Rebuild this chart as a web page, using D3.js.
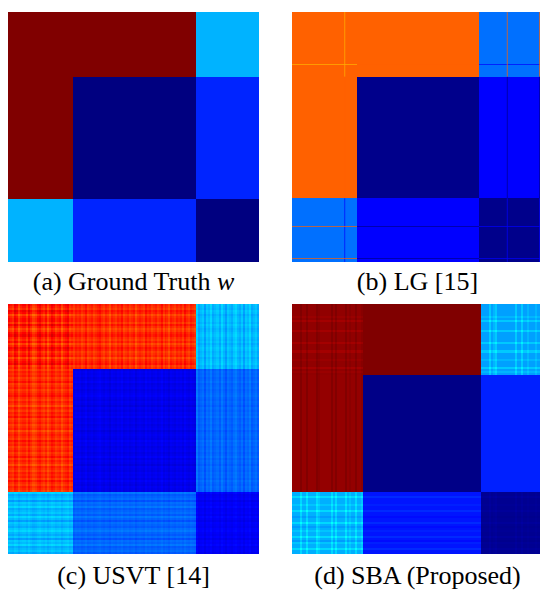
<!DOCTYPE html>
<html><head><meta charset="utf-8">
<script src="https://cdn.jsdelivr.net/npm/d3@7"></script>
<style>html,body{margin:0;padding:0;background:#fff;} svg{display:block;}</style>
</head><body>
<script>
// ---------- data ----------
const captions = ["(a) Ground Truth ", "(b) LG [15]", "(c) USVT [14]", "(d) SBA (Proposed)"];
const captionMath = ["w", "", "", ""];

// (a) ground truth graphon: block boundaries and block values
const gtBreaks = [0, 0.26, 0.749, 1];
const gtBlocks = [[1.0, 1.0, 0.30], [1.0, 0.0, 0.16], [0.30, 0.16, 0.0]];

// (b) LG estimate: blocks plus a few mis-assigned nodes (thin lines)
const lgBreaks = [0, 0.259, 0.745, 1];
const lgBlocks = [[0.78, 0.78, 0.235], [0.78, 0.011, 0.125], [0.235, 0.125, 0.011]];
const lgNodePos = [0.209, 0.856, 0.984];
const lgNodeVals = [[0.70, 0.78, 0.125], [0.78, 0.011, 0.125], [0.78, 0.011, 0.125]];

// (c) USVT estimate: blocks, per-node deviations, deviation strength per block
const usvtBreaks = [0, 0.26, 0.75, 1];
const usvtBlocks = [[0.84, 0.83, 0.305], [0.83, 0.105, 0.222], [0.305, 0.222, 0.115]];
const usvtAmp = [[0.018, 0.012, 0.005], [0.014, 0.006, 0.004], [0.014, 0.010, 0.005]];
const usvtDev = [
  [1,0,-1,2,1,-2,0,1,1,-1,2,0,-2,-1,1,2,0,-1,1,-2,0,2,1,-1,0,1,-2,0,1,2,-1,0],
  [-1,1,0,1,-1,0,2,-1,0,1,-1,0,1,2,0,-1,1,0,-2,1,0,-1,1,0,2,-1,0,1,-1,0,1,-2,0,1,0,-1,2,0,1,-1,0,1,-1,0,2,-1,1,0,-2,1,0,-1,1,0,1,-1,2,0,-1,1,0,-1],
  [2,-1,0,1,-2,1,0,2,-1,0,1,-1,2,0,-2,1,0,-1,1,2,0,-1,1,-2,1,0,2,-1,0,1,-1]
];

// (d) SBA estimate
const sbaBreaks = [0, 0.283, 0.752, 1];
const sbaBlocks = [[0.983, 1.05, 0.282], [0.98, 0.007, 0.156], [0.297, 0.145, 0.017]];
const sbaRowAmp = [[-0.009, 0, 0.02], [0, 0, 0], [0.02, 0.01, 0.004]];
const sbaColAmp = [[0.009, 0, 0.02], [0.009, 0, 0], [0.02, 0, 0.004]];
const sbaRowDev = [
  [0,0,0,0,0,0,1,0,2,0,0,0,0,2,0,0,0,0,0,2,0,0,0,2,0,0,0,1,0,0,0,2,0,1,0],
  [0],
  [0,0,2,0,0,0,1,0,0,2,0,0,-1,0,0,2,0,-1,0,1,0,0,2,0,-1,1,0,0,2,0,0]
];
const sbaColDev = [
  [0,0,0,0,2,0,0,2,0,0,0,0,2,1,0,0,0,0,0,2,0,2,0,0,0,0,2,0,1,0,0,2,0,0,1],
  [0],
  [0,0,0,0,2,0,1,2,0,0,0,0,0,0,0,0,0,2,0,0,2,0,0,1,0,0,0,1,0,0,0]
];

// ---------- drawing ----------
const jet = d3.scaleLinear()
  .domain([0, 0.125, 0.375, 0.625, 0.875, 1])
  .range(["#000080", "#0000ff", "#00ffff", "#ffff00", "#ff0000", "#800000"])
  .clamp(true);

const W = 251, H = 250;
const panelPos = [[8, 12], [292, 12], [8, 304], [292, 304]];
const captionY = [290, 290, 584, 584];

const svg = d3.select("body").append("svg").attr("width", 540).attr("height", 590);
const xs = d3.scaleLinear().domain([0, 1]).range([0, W]);
const ys = d3.scaleLinear().domain([0, 1]).range([0, H]);

function makeNodes(breaks, devs) {
  const out = [];
  devs.forEach((arr, c) => {
    const a = breaks[c], b = breaks[c + 1], n = arr.length;
    arr.forEach((dv, k) => out.push({c, t0: a + (b - a) * k / n, t1: a + (b - a) * (k + 1) / n, dev: dv}));
  });
  return out;
}

function drawMatrix(g, breaks, blocks, rowDevs, colDevs, rowAmp, colAmp) {
  const rows = makeNodes(breaks, rowDevs), cols = makeNodes(breaks, colDevs);
  const cells = d3.cross(rows, cols);
  g.selectAll("rect.cell").data(cells).join("rect").attr("class", "cell")
    .attr("x", d => xs(d[1].t0))
    .attr("y", d => ys(d[0].t0))
    .attr("width", d => xs(d[1].t1) - xs(d[1].t0))
    .attr("height", d => ys(d[0].t1) - ys(d[0].t0))
    .attr("shape-rendering", "crispEdges")
    .attr("fill", d => jet(blocks[d[0].c][d[1].c]
       + rowAmp[d[0].c][d[1].c] * d[0].dev
       + colAmp[d[0].c][d[1].c] * d[1].dev));
}

const zero3 = [[0,0,0],[0,0,0],[0,0,0]];
const flat = [[0],[0],[0]];
const panels = panelPos.map(p => svg.append("g").attr("transform", `translate(${p[0]},${p[1]})`));

// (a)
drawMatrix(panels[0], gtBreaks, gtBlocks, flat, flat, zero3, zero3);
// (b)
drawMatrix(panels[1], lgBreaks, lgBlocks, flat, flat, zero3, zero3);
const lgLines = [];
lgNodePos.forEach((p, k) => lgNodeVals[k].forEach((v, c) => {
  lgLines.push({dir: "h", p, c, v});
  lgLines.push({dir: "v", p, c, v});
}));
panels[1].selectAll("rect.line").data(lgLines).join("rect").attr("class", "line")
  .attr("x", d => d.dir === "h" ? xs(lgBreaks[d.c]) : xs(d.p))
  .attr("y", d => d.dir === "h" ? ys(d.p) : ys(lgBreaks[d.c]))
  .attr("width", d => d.dir === "h" ? xs(lgBreaks[d.c + 1]) - xs(lgBreaks[d.c]) : 0.7)
  .attr("height", d => d.dir === "h" ? 0.7 : ys(lgBreaks[d.c + 1]) - ys(lgBreaks[d.c]))
  .attr("fill", d => jet(d.v));
// (c)
const usvtColAmp = usvtAmp.map((row, a) => row.map((_, b) => usvtAmp[b][a]));
drawMatrix(panels[2], usvtBreaks, usvtBlocks, usvtDev, usvtDev, usvtAmp, usvtColAmp);
// (d)
drawMatrix(panels[3], sbaBreaks, sbaBlocks, sbaRowDev, sbaColDev, sbaRowAmp, sbaColAmp);

// captions
panelPos.forEach((p, i) => {
  const t = svg.append("text")
    .attr("x", p[0] + W / 2).attr("y", captionY[i])
    .attr("text-anchor", "middle")
    .attr("font-family", "'Liberation Serif', 'Times New Roman', serif")
    .attr("font-size", 26).attr("fill", "#000");
  t.append("tspan").text(captions[i]);
  if (captionMath[i]) t.append("tspan").attr("font-style", "italic").text(captionMath[i]);
});
</script>
</body></html>
